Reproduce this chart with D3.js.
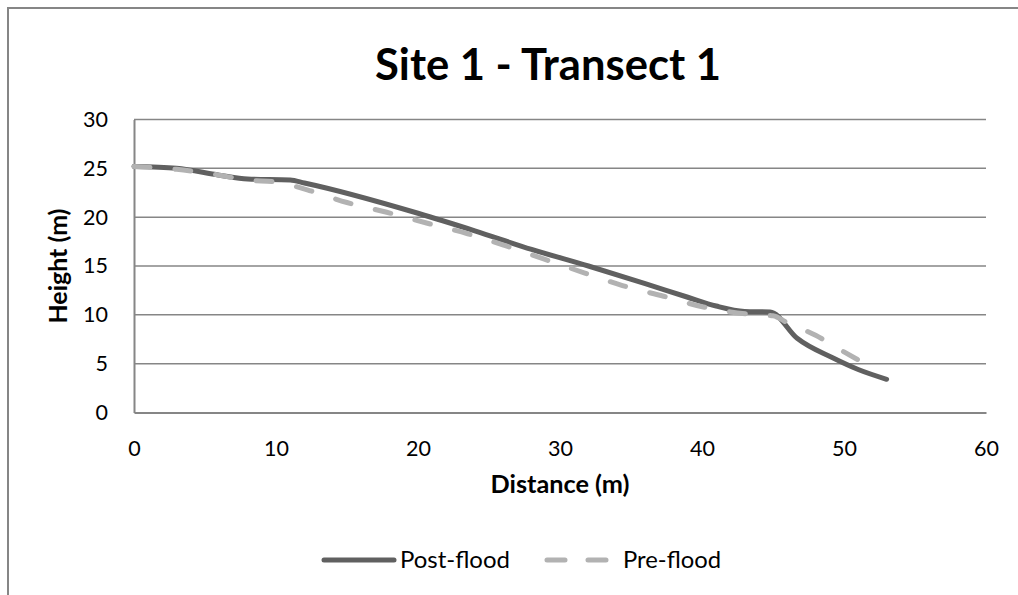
<!DOCTYPE html>
<html><head><meta charset="utf-8">
<script src="https://cdn.jsdelivr.net/npm/d3@7"></script>
<style>
html,body{margin:0;padding:0;background:#fff;}
svg{display:block;}
text{font-family:Lato,"Open Sans",sans-serif;fill:#000;}
</style></head>
<body>
<script>
const title = "Site 1 - Transect 1";
const xLabel = "Distance (m)";
const yLabel = "Height (m)";
const xTicks = [0,10,20,30,40,50,60];
const yTicks = [0,5,10,15,20,25,30];
const seriesNames = ["Post-flood","Pre-flood"];
const postDist = [0,3,6,8,11,12,20,24,28,32,36,39,41,43,44.8,46.7,49.2,51,53];
const postHeight = [25.2,25.0,24.3,23.9,23.8,23.5,20.4,18.6,16.7,15.0,13.2,11.8,10.9,10.35,10.3,7.6,5.6,4.4,3.4];
const preDist = [0,3,6,8,10,12.2,15,17.8,20.6,23.5,26.1,28.9,31.7,34.4,37.3,40.1,42,44,45,46,48,50,52];
const preHeight = [25.2,24.9,24.3,23.8,23.6,22.8,21.5,20.5,19.4,18.3,17.1,15.7,14.3,13.0,11.9,10.8,10.3,10.0,9.9,9.2,7.9,6.2,4.6];

const W = 1018, H = 595;
const svg = d3.select("body").append("svg").attr("width", W).attr("height", H);

function fit(sel, target){
  const fs = parseFloat(sel.style("font-size"));
  const w = sel.node().getComputedTextLength();
  if (w > 0) sel.style("font-size", (fs*target/w).toFixed(2)+"px");
  return sel;
}

// outer border
svg.append("path").attr("d", `M8,${H} V8 H${W}`).attr("fill","none")
  .attr("stroke","#868686").attr("stroke-width",2);

const x = d3.scaleLinear().domain([0,60]).range([134,986]);
const y = d3.scaleLinear().domain([0,30]).range([412.5,119.5]);

// gridlines
svg.append("g").selectAll("line").data(yTicks.filter(d=>d>0)).join("line")
  .attr("x1", x(0)).attr("x2", x(60))
  .attr("y1", d=>y(d)).attr("y2", d=>y(d))
  .attr("stroke","#868686").attr("stroke-width",1.5);

// axes
const xAxis = svg.append("g").attr("transform",`translate(0,${y(0)})`)
  .call(d3.axisBottom(x).tickValues(xTicks).tickSize(0));
xAxis.select(".domain").attr("stroke","#868686").attr("stroke-width",2);
xAxis.selectAll("text").attr("y",43.5).attr("dy","0")
  .style("font-size","21.5px").style("font-family","Lato").attr("fill","#000");

const yAxis = svg.append("g").attr("transform",`translate(${x(0)},0)`)
  .call(d3.axisLeft(y).tickValues(yTicks).tickSize(0).tickPadding(26));
yAxis.select(".domain").attr("stroke","#868686").attr("stroke-width",2);
yAxis.selectAll("text").style("font-size","21.5px").style("font-family","Lato").attr("fill","#000");

// title and axis labels
fit(svg.append("text").attr("x", 548).attr("y", 80).attr("text-anchor","middle")
  .style("font-size","38px").style("font-weight","bold").text(title), 346);
fit(svg.append("text").attr("x", 560).attr("y", 493).attr("text-anchor","middle")
  .style("font-size","20px").style("font-weight","bold").text(xLabel), 139);
fit(svg.append("text").attr("transform","translate(67,266) rotate(-90)").attr("text-anchor","middle")
  .style("font-size","20px").style("font-weight","bold").text(yLabel), 115);

const line = d3.line().x(d=>x(d[0])).y(d=>y(d[1])).curve(d3.curveMonotoneX);
const post = postDist.map((d,i)=>[d,postHeight[i]]);
const pre = preDist.map((d,i)=>[d,preHeight[i]]);

svg.append("path").datum(post).attr("d",line).attr("fill","none")
  .attr("stroke","#606060").attr("stroke-width",5).attr("stroke-linecap","round").attr("stroke-linejoin","round");
svg.append("path").datum(pre).attr("d",line).attr("fill","none")
  .attr("stroke","#b2b2b2").attr("stroke-width",5).attr("stroke-linecap","round")
  .attr("stroke-dasharray","16,25");

// legend
const lg = svg.append("g");
lg.append("line").attr("x1",324).attr("x2",394).attr("y1",560).attr("y2",560)
  .attr("stroke","#606060").attr("stroke-width",5).attr("stroke-linecap","round");
fit(lg.append("text").attr("x",400).attr("y",568).style("font-size","22px").text(seriesNames[0]), 110);
lg.append("line").attr("x1",547).attr("x2",607).attr("y1",560).attr("y2",560)
  .attr("stroke","#b2b2b2").attr("stroke-width",5).attr("stroke-linecap","round").attr("stroke-dasharray","18,23");
fit(lg.append("text").attr("x",623).attr("y",568).style("font-size","22px").text(seriesNames[1]), 98);
</script>
</body></html>
